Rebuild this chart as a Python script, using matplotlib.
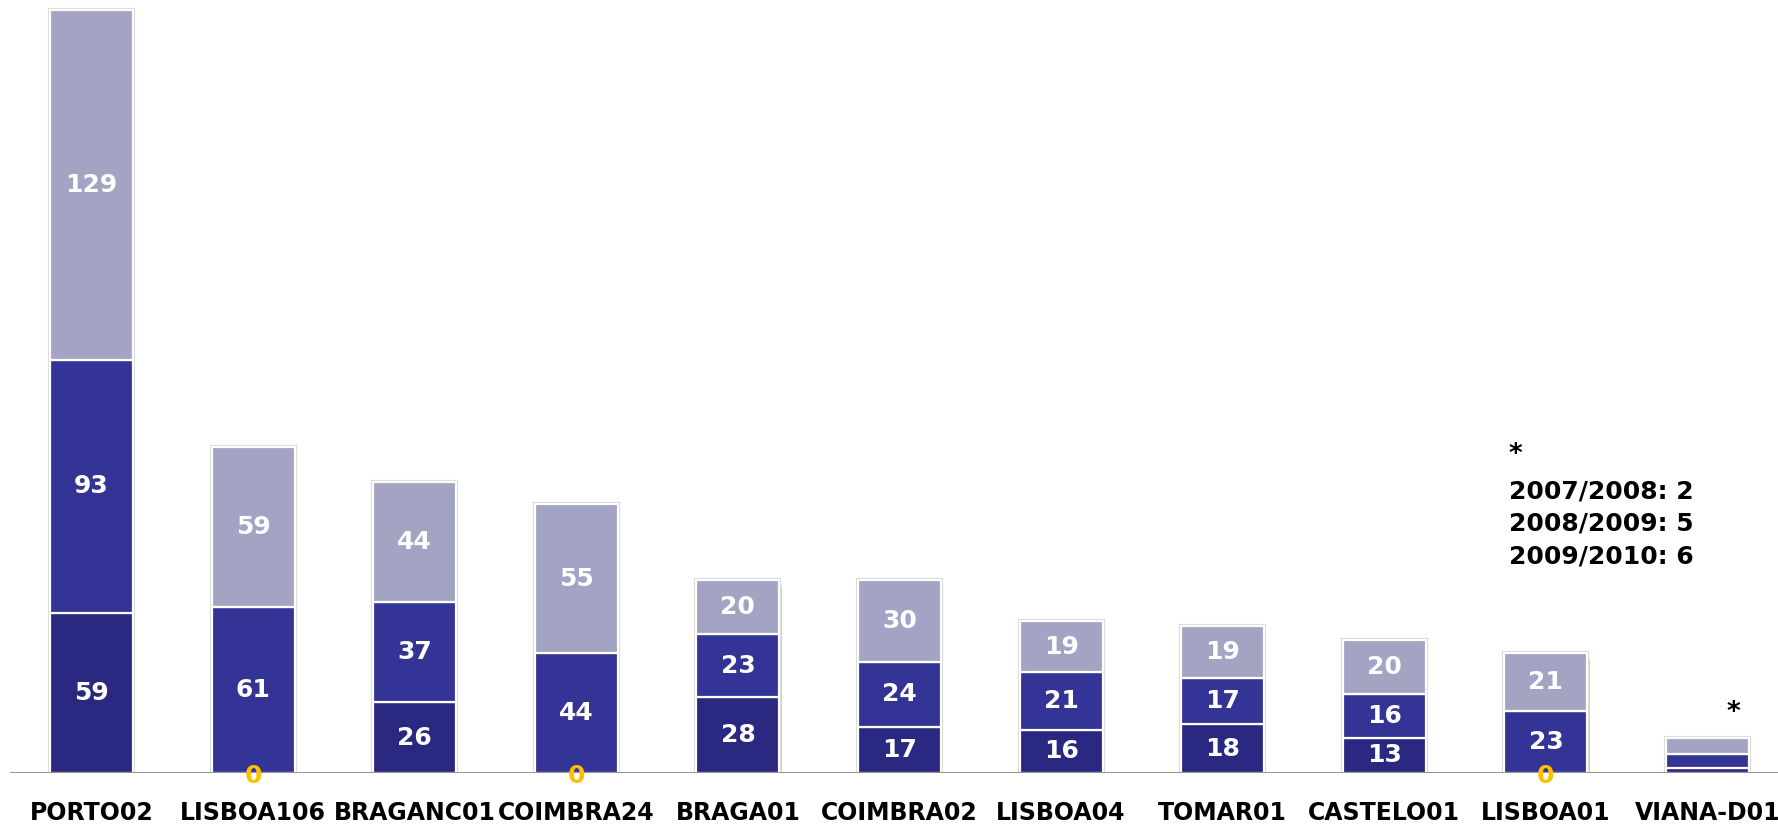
import matplotlib
matplotlib.use("Agg")
import matplotlib.pyplot as plt
import matplotlib.patheffects as pe
import numpy as np

categories = ["PORTO02", "LISBOA106", "BRAGANC01", "COIMBRA24", "BRAGA01",
              "COIMBRA02", "LISBOA04", "TOMAR01", "CASTELO01", "LISBOA01", "VIANA-D01"]
s2007_2008 = [59, 0, 26, 0, 28, 17, 16, 18, 13, 0, 2]
s2008_2009 = [93, 61, 37, 44, 23, 24, 21, 17, 16, 23, 5]
s2009_2010 = [129, 59, 44, 55, 20, 30, 19, 19, 20, 21, 6]
series = [s2007_2008, s2008_2009, s2009_2010]
series_names = ["2007/2008", "2008/2009", "2009/2010"]
colors = ["#2A2880", "#343396", "#A3A3C4"]
note_index = 10  # bar whose values are listed in the side note

W, H = 1778, 827
fig = plt.figure(figsize=(W / 100, H / 100), dpi=100)
base_px = 773
ax = fig.add_axes([0, (H - base_px) / H, 1, base_px / H])
px_per_unit = 2.717
ax.set_ylim(0, base_px / px_per_unit)
spacing = 161.6
ax.set_xlim(-91.5 / spacing, (W - 91.5) / spacing)
ax.axis("off")

x = np.arange(len(categories))
width = 0.514
totals = np.sum(series, axis=0)

# soft frame and drop shadow behind each whole bar
frames = ax.bar(x, totals, width, color="white", edgecolor="#D8D8D8",
                linewidth=3, zorder=2)
for b in frames:
    b.set_path_effects([pe.SimplePatchShadow(offset=(1.5, -4), shadow_rgbFace="#999999",
                                             alpha=0.45), pe.Normal()])

bottom = np.zeros(len(categories))
for vals, col in zip(series, colors):
    vals = np.array(vals, dtype=float)
    ax.bar(x, vals, width, bottom=bottom, color=col, edgecolor="white",
           linewidth=1.6, zorder=3)
    for i, (v, b0) in enumerate(zip(vals, bottom)):
        if i == note_index:
            continue
        if v > 0:
            ax.text(x[i], b0 + v / 2, f"{int(v)}", ha="center", va="center",
                    color="white", fontsize=18, fontweight="bold", zorder=5)
    bottom += vals

# zero values marked at the baseline
for i in range(len(categories)):
    for vals in series:
        if vals[i] == 0:
            ax.text(x[i], -1, "0", ha="center", va="center", color="#FFC000",
                    fontsize=18, fontweight="bold", zorder=6, clip_on=False)

ax.axhline(0, xmin=11 / W, xmax=1, color="#888888", linewidth=2, zorder=4)

for i, c in enumerate(categories):
    fig.text((91.5 + i * spacing) / W, 1 - 813 / H, c, ha="center", va="center",
             fontsize=17, fontweight="bold", color="black")

# note for the smallest bar
fig.text(1733 / W, 1 - 713 / H, "*", ha="center", va="center", fontsize=19,
         fontweight="bold", color="black")
fig.text(1509 / W, 1 - 455 / H, "*", ha="left", va="center", fontsize=19,
         fontweight="bold", color="black")
for k, (name, vals) in enumerate(zip(series_names, series)):
    fig.text(1509 / W, 1 - (491 + 32.5 * k) / H, f"{name}: {vals[note_index]}",
             ha="left", va="center", fontsize=18, fontweight="bold", color="black")

fig.savefig("out.png", dpi=100, facecolor="white")
